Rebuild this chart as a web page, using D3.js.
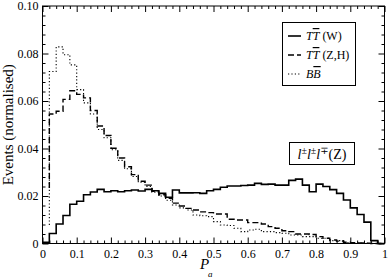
<!DOCTYPE html>
<html>
<head>
<meta charset="utf-8">
<script src="https://cdn.jsdelivr.net/npm/d3@7"></script>
<style>
  body { margin: 0; background: #fff; }
  svg text { font-family: "Liberation Serif", "DejaVu Serif", serif; fill: #000; }
</style>
</head>
<body>
<div id="chart"></div>
<script>
// bin width 0.02, 50 bins from 0 to 1
const binWidth = 0.02;

// TT (W) - solid
const ttW = [
  0.0005, 0.0042, 0.0082, 0.0118, 0.0165, 0.0178, 0.0205, 0.0217, 0.0228, 0.0218,
  0.0222, 0.0218, 0.0222, 0.0225, 0.0221, 0.0228, 0.0222, 0.0211, 0.0195, 0.0225,
  0.0213, 0.0213, 0.0214, 0.0211, 0.0222, 0.0228, 0.0237, 0.0242, 0.0242, 0.0244,
  0.0246, 0.0253, 0.0249, 0.0250, 0.0246, 0.0246, 0.0266, 0.0271, 0.0246, 0.0218,
  0.0250, 0.0240, 0.0227, 0.0211, 0.0183, 0.0150, 0.0122, 0.0090, 0.0012, 0.0000
];

// TT (Z,H) - dashed
const ttZH = [
  0.0234, 0.0545, 0.0557, 0.0607, 0.0643, 0.0628, 0.0613, 0.0560, 0.0495, 0.0455,
  0.0401, 0.0360, 0.0323, 0.0290, 0.0262, 0.0246, 0.0220, 0.0205, 0.0190, 0.0170,
  0.0158, 0.0148, 0.0141, 0.0133, 0.0130, 0.0124, 0.0124, 0.0102, 0.0099, 0.0099,
  0.0088, 0.0088, 0.0082, 0.0071, 0.0064, 0.0054, 0.0050, 0.0040, 0.0040, 0.0038,
  0.0029, 0.0022, 0.0015, 0.0010, 0.0005, 0.0003, 0.0002, 0.0001, 0.0000, 0.0000
];

// BB - dotted
const bb = [
  0.0078, 0.0724, 0.0828, 0.0795, 0.0752, 0.0648, 0.0592, 0.0545, 0.0480, 0.0445,
  0.0395, 0.0350, 0.0315, 0.0282, 0.0258, 0.0240, 0.0216, 0.0200, 0.0182, 0.0162,
  0.0150, 0.0141, 0.0120, 0.0117, 0.0113, 0.0092, 0.0078, 0.0076, 0.0064, 0.0050,
  0.0057, 0.0060, 0.0050, 0.0050, 0.0046, 0.0043, 0.0036, 0.0036, 0.0029, 0.0029,
  0.0022, 0.0022, 0.0012, 0.0012, 0.0004, 0.0003, 0.0002, 0.0001, 0.0000, 0.0000
];

const xTicks = [0, 0.1, 0.2, 0.3, 0.4, 0.5, 0.6, 0.7, 0.8, 0.9, 1];
const xTickLabels = ["0", "0.1", "0.2", "0.3", "0.4", "0.5", "0.6", "0.7", "0.8", "0.9", "1"];
const yTicks = [0, 0.02, 0.04, 0.06, 0.08, 0.10];
const yTickLabels = ["0", "0.02", "0.04", "0.06", "0.08", "0.10"];
const channelSigns = ["\u00b1", "\u00b1", "\u2213"];

const width = 389, height = 278;
const margin = { left: 42.5, right: 4.5, top: 6, bottom: 34.5 };

const x = d3.scaleLinear().domain([0, 1]).range([margin.left, width - margin.right]);
const y = d3.scaleLinear().domain([0, 0.1]).range([height - margin.bottom, margin.top]);

const svg = d3.select("#chart").append("svg")
  .attr("width", width)
  .attr("height", height);

// minor ticks
const xMinor = d3.range(0, 1.0001, 0.02).filter(v => Math.abs(v * 10 - Math.round(v * 10)) > 1e-6);
const yMinor = d3.range(0, 0.1001, 0.004).filter(v => Math.abs(v * 50 - Math.round(v * 50)) > 1e-6);

function styleAxis(g) {
  g.select(".domain").remove();
  g.selectAll("line").attr("stroke", "#000").attr("stroke-width", 1);
  g.selectAll("text").style("font-size", "12px").style("font-family", "'Liberation Serif', serif");
}

svg.append("g").attr("transform", `translate(0,${y(0)})`)
  .call(d3.axisBottom(x).tickValues(xTicks).tickSize(-6).tickPadding(6)
    .tickFormat((d, i) => xTickLabels[i]))
  .call(styleAxis);
svg.append("g").attr("transform", `translate(0,${y(0)})`)
  .call(d3.axisBottom(x).tickValues(xMinor).tickSize(-3).tickFormat(""))
  .call(styleAxis);
svg.append("g").attr("transform", `translate(0,${y(0.1)})`)
  .call(d3.axisTop(x).tickValues(xTicks).tickSize(-6).tickFormat(""))
  .call(styleAxis);
svg.append("g").attr("transform", `translate(0,${y(0.1)})`)
  .call(d3.axisTop(x).tickValues(xMinor).tickSize(-3).tickFormat(""))
  .call(styleAxis);

svg.append("g").attr("transform", `translate(${x(0)},0)`)
  .call(d3.axisLeft(y).tickValues(yTicks).tickSize(-6).tickPadding(4)
    .tickFormat((d, i) => yTickLabels[i]))
  .call(styleAxis);
svg.append("g").attr("transform", `translate(${x(0)},0)`)
  .call(d3.axisLeft(y).tickValues(yMinor).tickSize(-3).tickFormat(""))
  .call(styleAxis);
svg.append("g").attr("transform", `translate(${x(1)},0)`)
  .call(d3.axisRight(y).tickValues(yTicks).tickSize(-6).tickFormat(""))
  .call(styleAxis);
svg.append("g").attr("transform", `translate(${x(1)},0)`)
  .call(d3.axisRight(y).tickValues(yMinor).tickSize(-3).tickFormat(""))
  .call(styleAxis);

// frame
svg.append("rect")
  .attr("x", x(0)).attr("y", y(0.1))
  .attr("width", x(1) - x(0)).attr("height", y(0) - y(0.1))
  .attr("fill", "none").attr("stroke", "#000").attr("stroke-width", 1);

// histogram lines: start at the right edge of the first bin, then step
const stepLine = d3.line()
  .x(d => x(d[0]))
  .y(d => y(d[1]))
  .curve(d3.curveStepBefore);

function histPoints(vals) {
  return vals.map((v, i) => [(i + 1) * binWidth, v]);
}

const series = [
  { vals: bb, dash: "1.2,2.2", width: 1.1, fromZero: false },
  { vals: ttZH, dash: "6,3", width: 1.4, fromZero: false },
  { vals: ttW, dash: null, width: 1.6, fromZero: true }
];

series.forEach(s => {
  const pts = histPoints(s.vals);
  if (s.fromZero) pts.unshift([0, s.vals[0]]);
  svg.append("path")
    .datum(pts)
    .attr("d", stepLine)
    .attr("fill", "none")
    .attr("stroke", "#000")
    .attr("stroke-width", s.width)
    .attr("stroke-dasharray", s.dash);
});

// axis titles
svg.append("text")
  .attr("transform", `translate(13,${(y(0) + y(0.1)) / 2}) rotate(-90)`)
  .attr("text-anchor", "middle")
  .style("font-size", "15px")
  .text("Events (normalised)");

svg.append("text").attr("x", 200).attr("y", 269).style("font-size", "15px")
  .style("font-style", "italic").text("P");
svg.append("text").attr("x", 208).attr("y", 277).style("font-size", "9px")
  .style("font-style", "italic").text("a");

// legend
const leg = svg.append("g");
leg.append("rect").attr("x", 282.5).attr("y", 22.5).attr("width", 73).attr("height", 63)
  .attr("fill", "#fff").attr("stroke", "#000").attr("stroke-width", 1);

const legItems = [
  { a: "T", b: "T", rest: " (W)", dash: null, w: 1.6 },
  { a: "T", b: "T", rest: " (Z,H)", dash: "6,3", w: 1.4 },
  { a: "B", b: "B", rest: "", dash: "1.2,2.2", w: 1.1 }
];
legItems.forEach((d, i) => {
  const cy = 36 + i * 19;
  leg.append("line").attr("x1", 288).attr("x2", 301).attr("y1", cy).attr("y2", cy)
    .attr("stroke", "#000").attr("stroke-width", d.w).attr("stroke-dasharray", d.dash);
  const t = leg.append("text").attr("x", 306).attr("y", cy + 4).style("font-size", "12px");
  t.append("tspan").style("font-style", "italic").text(d.a);
  t.append("tspan").style("font-style", "italic").style("text-decoration", "overline").text(d.b);
  if (d.rest) t.append("tspan").text(d.rest);
});

// channel box
svg.append("rect").attr("x", 289.5).attr("y", 142.5).attr("width", 65).attr("height", 22)
  .attr("fill", "#fff").attr("stroke", "#000").attr("stroke-width", 1);
const ch = svg.append("text").attr("x", 322).attr("y", 159).attr("text-anchor", "middle")
  .style("font-size", "14px");
channelSigns.forEach((s, i) => {
  ch.append("tspan").style("font-style", "italic").attr("dy", i === 0 ? 0 : 5).text("l");
  ch.append("tspan").style("font-size", "10px").attr("dy", -5).text(s);
});
ch.append("tspan").attr("dy", 5).text("(Z)");
</script>
</body>
</html>
